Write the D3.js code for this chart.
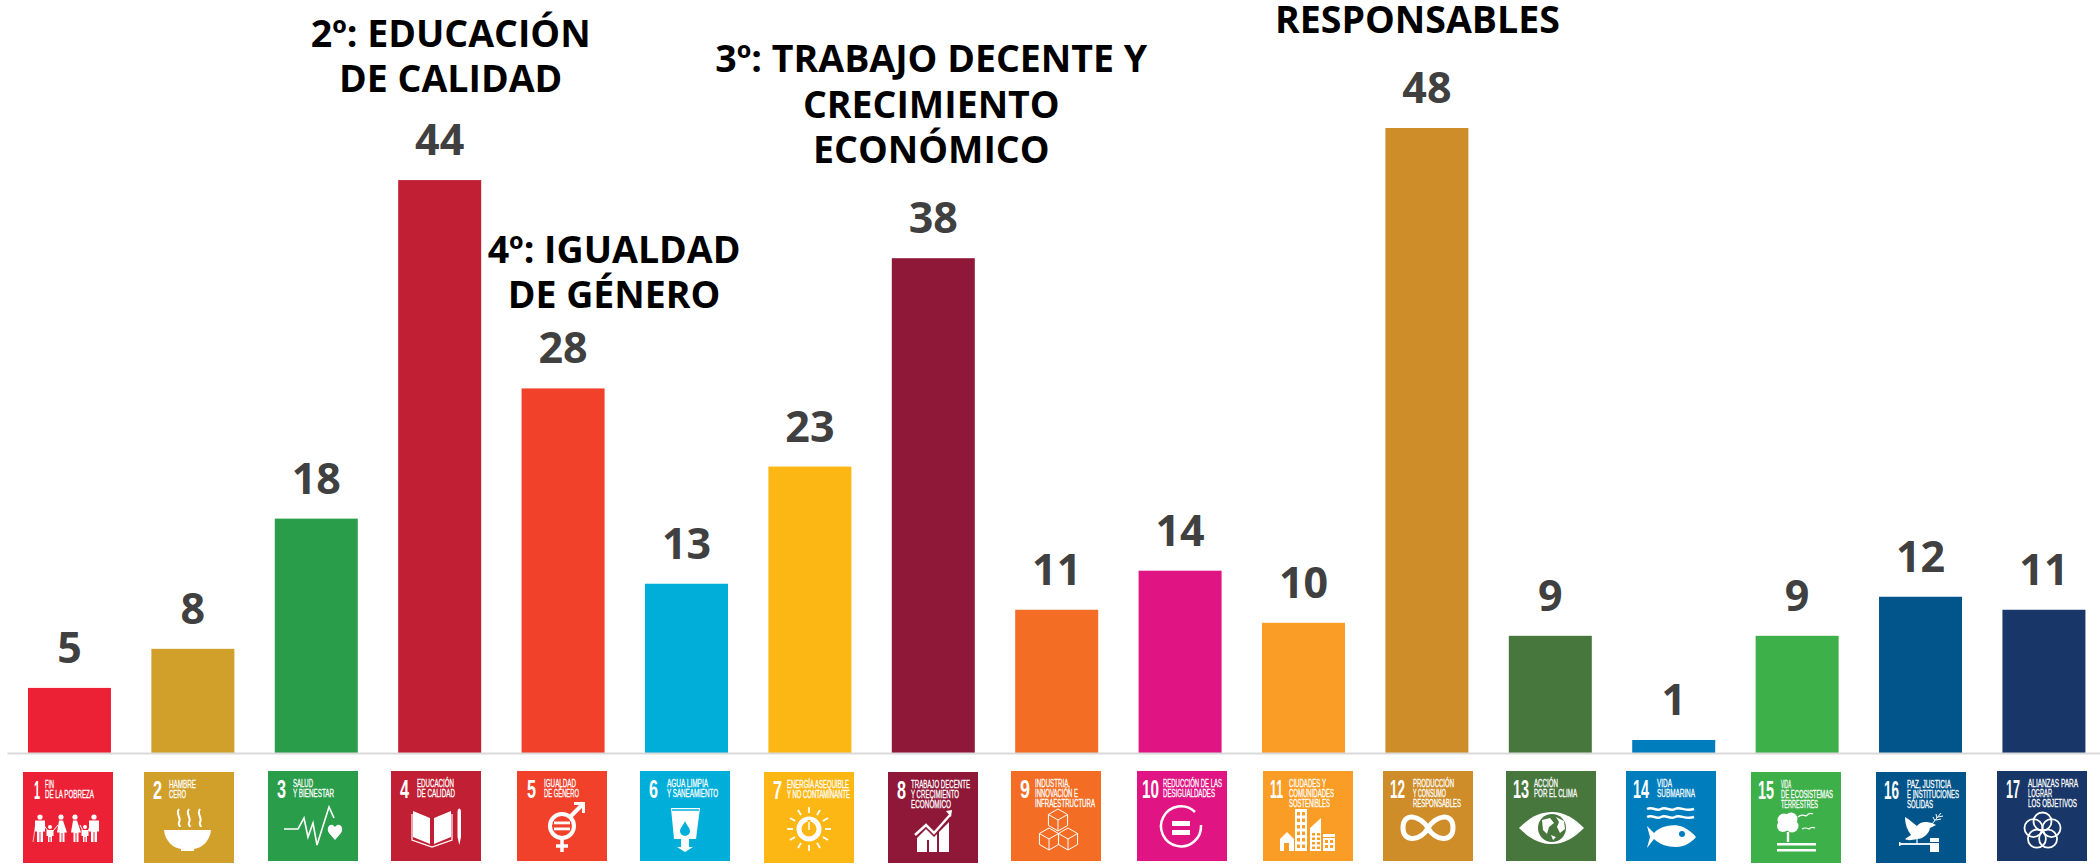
<!DOCTYPE html>
<html><head><meta charset="utf-8">
<script src="https://cdn.jsdelivr.net/npm/d3@7/dist/d3.min.js"></script>
<style>html,body{margin:0;background:#fff}svg{display:block}</style></head>
<body><svg id="c" width="2100" height="865"></svg>
<script>
const goals=["1","2","3","4","5","6","7","8","9","10","11","12","13","14","15","16","17"];
const labels=[5,8,18,44,28,13,23,38,11,14,10,48,9,1,9,12,11];
const barValues=[5,8,18,44,28,13,22,38,11,14,10,48,9,1,9,12,11];
const colors=["#ED2135","#D1A02B","#2A9D4B","#C11F33","#F1412B","#00AEDA","#FDB714","#8F1838","#F36D25","#E11484","#F99D26","#CF8D2A","#48773E","#007DBC","#3EB049","#02558B","#183668"];
const tileText=[["FIN","DE LA POBREZA"],["HAMBRE","CERO"],["SALUD","Y BIENESTAR"],["EDUCACIÓN","DE CALIDAD"],["IGUALDAD","DE GÉNERO"],["AGUA LIMPIA","Y SANEAMIENTO"],["ENERGÍA ASEQUIBLE","Y NO CONTAMINANTE"],["TRABAJO DECENTE","Y CRECIMIENTO","ECONÓMICO"],["INDUSTRIA,","INNOVACIÓN E","INFRAESTRUCTURA"],["REDUCCIÓN DE LAS","DESIGUALDADES"],["CIUDADES Y","COMUNIDADES","SOSTENIBLES"],["PRODUCCIÓN","Y CONSUMO","RESPONSABLES"],["ACCIÓN","POR EL CLIMA"],["VIDA","SUBMARINA"],["VIDA","DE ECOSISTEMAS","TERRESTRES"],["PAZ, JUSTICIA","E INSTITUCIONES","SÓLIDAS"],["ALIANZAS PARA","LOGRAR","LOS OBJETIVOS"]];
const annotations=[{goal:"4",lines:["2º: EDUCACIÓN","DE CALIDAD"]},{goal:"5",lines:["4º: IGUALDAD","DE GÉNERO"]},{goal:"8",lines:["3º: TRABAJO DECENTE Y","CRECIMIENTO","ECONÓMICO"]},{goal:"12",lines:["RESPONSABLES"]}];

// layout only
const tileLeft=[23,144,268,391,517,640,764,888,1011,1137,1263,1383,1506,1626,1751,1876,1997];
const tileTop=[772,772,771,771,771,771,772,772,771,771,771,771,771,771,772,772,771];
const tileH=[91,91,90,90,90,90,91,91,90,90,90,90,90,90,91,91,90];
const numX=[11,9,9,9,10,9,9,9,9,5,7,7,7,7,7,8,9];
const numW=[6,9,9,9,9,9,9,9,10,17,13,15,16,16,16,15,14];
const txtX=[22,25,25,26,27,27,23,23,24,26,26,30,28,31,30,31,31];
const txtW=[[9,49],[27,17],[20,41],[37,38],[32,35],[41,51],[62,63],[59,48,40],[35,43,60],[59,52],[37,45,41],[41,33,48],[24,43],[15,38],[10,52,37],[44,52,26],[50,24,49]];
const annY=[[47,92],[263,308],[72,118,163],[33]];
const annDx=[11,51,-2,-9.5];

const svg=d3.select("#c");
const x=d3.scaleBand().domain(goals).range([7,2100]).paddingInner(40.4/123.4).paddingOuter(.144).align(.59);
const y=d3.scaleLinear().domain([0,48]).range([753,128]);
const rows=goals.map((g,i)=>({g,i,v:barValues[i],l:labels[i],c:colors[i]}));

svg.selectAll("rect.bar").data(rows).join("rect").attr("class","bar")
 .attr("x",d=>x(d.g)).attr("y",d=>y(d.v)).attr("width",x.bandwidth()).attr("height",d=>y(0)-y(d.v)).attr("fill",d=>d.c);

const ax=svg.append("g").attr("transform","translate(0,753)").call(d3.axisBottom(x).tickValues([]).tickSizeOuter(0));
ax.select(".domain").attr("stroke","#d9d9d9").attr("stroke-width",2);

svg.selectAll("text.val").data(rows).join("text").attr("class","val")
 .attr("x",d=>x(d.g)+x.bandwidth()/2).attr("y",d=>y(d.v)-25).attr("text-anchor","middle")
 .attr("font-family","'Open Sans'").attr("font-weight",700).attr("font-size",43).attr("fill","#404040").text(d=>d.l);

annotations.forEach((a,k)=>{
 a.lines.forEach((t,j)=>svg.append("text").attr("x",x(a.goal)+x.bandwidth()/2+annDx[k]).attr("y",annY[k][j])
  .attr("text-anchor","middle").attr("font-family","'Open Sans'").attr("font-weight",700).attr("font-size",37.5).attr("fill","#000").text(t));
});

// --- icon helpers (local 90x90 tile coordinates)
const W="#fff";
const P=(g,d)=>g.append("path").attr("d",d).attr("fill",W);
const S=(g,d,w)=>g.append("path").attr("d",d).attr("fill","none").attr("stroke",W).attr("stroke-width",w);
const C=(g,cx,cy,r)=>g.append("circle").attr("cx",cx).attr("cy",cy).attr("r",r).attr("fill",W);
const R=(g,a,b,w,h,f)=>g.append("rect").attr("x",a).attr("y",b).attr("width",w).attr("height",h).attr("fill",f||W);
const ring=(g,cx,cy,r,w)=>g.append("circle").attr("cx",cx).attr("cy",cy).attr("r",r).attr("fill","none").attr("stroke",W).attr("stroke-width",w);
const icons=[
 g=>{[[17,0],[38,1],[52,1],[71,0]].forEach(([a,f])=>{C(g,a,45,2.6);
     P(g,f?`M${a-2} 48.5h4l4 12h-2.5v9.5h-2v-9h-1v9h-2v-9.5h-2.5z`:`M${a-5} 48.5h10v11h-2v10.5h-2.5v-10h-1v10h-2.5v-10.5h-2z`);});
     [27,62].forEach(a=>{C(g,a,55,2);P(g,`M${a-3.5} 58h7v6h-1.5v6h-1.5v-5h-1v5h-1.5v-6h-1.5z`);});
     S(g,"M13 50L10 70",.7);S(g,"M20 52L25 59M30 59L35 53M57 53L60 59M65 59L68 52",1);},
 g=>{P(g,"M20 58H67C66 69 58 76 50 77V79H37V77C29 76 21 69 20 58Z");
     [35,45,56].forEach(a=>S(g,`M${a} 37C${a-4} 42 ${a+3} 46 ${a} 50C${a-1} 52 ${a+1} 54 ${a+1} 55`,2));},
 g=>{S(g,"M16 58H30L36 47L40 66L45 52L49 74L61 36L66 47",1.6);
     P(g,"M67 69L61 62C58 58 61 53 64.5 54C66 54.5 67 56 67 56C67 56 68 54.5 69.5 54C73 53 76 58 73 62Z");},
 g=>{P(g,"M22 40L39 47V73L22 66ZM43 47L60 40V66L43 73Z");S(g,"M21 43V69L41 76L61 69V43",1.2);
     P(g,"M66.5 41.5C66.5 36 70 36 70 41.5V66L68.25 74L66.5 66Z");},
 g=>{ring(g,45,55,12,4);R(g,37,50.5,16,2.8);R(g,37,56.5,16,2.8);S(g,"M53 46L65 34",4);P(g,"M57 31H68V42L65 42V34H57Z");S(g,"M45 67V81M39 75H51",3.5);},
 g=>{P(g,"M31 37H60L56 68H49V76H53L45 81L37 76H41V68H34Z");
     g.append("path").attr("d","M45 50C43 55 40 57 40 60A5 5 0 0 0 50 60C50 57 47 55 45 50Z").attr("fill",colors[5]);
     g.append("path").attr("d","M32 39H59").attr("stroke",colors[5]).attr("stroke-width",1.5);},
 g=>{ring(g,45,57,10,5);g.append("path").attr("d","M45 48V57").attr("stroke",colors[6]).attr("stroke-width",3);g.append("path").attr("d","M45 50V58").attr("stroke",W).attr("stroke-width",1.5);
     d3.range(12).forEach(k=>{const a=k*Math.PI/6;S(g,`M${45+16*Math.cos(a)} ${57+16*Math.sin(a)}L${45+22*Math.cos(a)} ${57+22*Math.sin(a)}`,1.8);});},
 g=>{P(g,"M29 66L38 57L46 65L49 62V80H29ZM51 60L61 50V80H51Z");R(g,39,68,2,12,colors[7]);R(g,49,62,2,18,colors[7]);
     S(g,"M27 63L38 53L46 61L62 43",2.5);P(g,"M58 39L64 38L63 45Z");},
 g=>{const cube=(cx,cy,r)=>S(g,`M${cx} ${cy-r}L${cx+r*.87} ${cy-r/2}V${cy+r/2}L${cx} ${cy+r}L${cx-r*.87} ${cy+r/2}V${cy-r/2}ZM${cx-r*.87} ${cy-r/2}L${cx} ${cy}L${cx+r*.87} ${cy-r/2}M${cx} ${cy}V${cy+r}`,1);
     cube(47,49,11);cube(38,68,11);cube(57,68,11);},
 g=>{S(g,"M58 41A20 20 0 1 0 64 54",2.5);R(g,35,50,18,5);R(g,35,59,18,5);},
 g=>{const c=colors[10];P(g,"M24 61L31 68H17Z");R(g,17,68,14,12);R(g,21,72,5,8,c);R(g,32,38,12,42);
     d3.range(6).forEach(r=>[34,39].forEach(a=>R(g,a,41+r*6.5,3,3.5,c)));
     P(g,"M47 57L58 47V80H47Z");d3.range(4).forEach(r=>[49,54].forEach(a=>R(g,a,62+r*4.5,3,2.5,c)));
     R(g,60,63,12,17);R(g,60,66,12,1,c);[62,67].forEach(a=>{R(g,a,69,3,3,c);R(g,a,74,3,3,c);});},
 g=>{S(g,"M45 57C38 45 20 40 20 57C20 72 38 70 45 57C52 45 70 40 70 57C70 72 52 70 45 57",5);},
 g=>{P(g,"M13 57C24 46 34 41 46 41C58 41 68 47 78 57C68 67 58 73 46 73C34 73 24 68 13 57Z");
     const c=colors[12];g.append("circle").attr("cx",46).attr("cy",57).attr("r",14).attr("fill",c);
     P(g,"M36 49L44 47L48 52L43 56L41 63L37 59ZM50 46L58 50L59 58L54 62L51 56L53 51ZM45 64L50 66L47 69Z");},
 g=>{["M21 38C27 35 30 41 35 38C40 35 44 41 49 38C54 35 59 41 68 38","M21 46C27 43 30 49 35 46C40 43 44 49 49 46C54 43 59 49 68 46"].forEach(d=>S(g,d,2.5));
     P(g,"M21 55L28 62C34 55 48 52 57 56C63 59 67 62 70 66C65 72 58 76 50 76C41 76 33 73 28 68L21 77L24 66Z");
     g.append("circle").attr("cx",56).attr("cy",63).attr("r",3).attr("fill",colors[13]);},
 g=>{C(g,33,48,6.5);C(g,40,47,6.5);C(g,32,54,6);C(g,41,54,6.5);C(g,37,51,7);R(g,35.8,60,2.4,10);R(g,26,71,39,2.5);R(g,26,77,39,2.5);
     S(g,"M47 45C50 42 53 43 55 44C57 42 60 41 62 42M51 57C54 55 56 56 58 57C60 55 62 55 64 56",1.2);},
 g=>{P(g,"M29 45C33 47 38 52 41 54C44 50 48 50 51 50L56 51L60 53L54 56C53 62 47 67 41 67C36 68 32 69 29 67L35 63C31 58 29 52 29 45Z");
     S(g,"M56 52L65 41M59 49L57 45M61 46L60 42M60 48L65 47M62 45L67 44",1);
     S(g,"M41 67V72",1.2);S(g,"M23 72H54",1.8);R(g,23,70,1.5,4);R(g,54,66,9,14);R(g,54,70,9,1,colors[15]);},
 g=>{[0,1,2,3,4].forEach(k=>{const a=-Math.PI/2+k*2*Math.PI/5;ring(g,45.5+9.5*Math.cos(a),60+9.5*Math.sin(a),9,1.8);});}
];

const tiles=svg.selectAll("g.tile").data(rows).join("g").attr("class","tile").attr("transform",d=>`translate(${tileLeft[d.i]},${tileTop[d.i]})`);
tiles.each(function(d){
 const g=d3.select(this);
 g.append("rect").attr("width",90).attr("height",tileH[d.i]).attr("fill",d.c);
 g.append("text").attr("x",numX[d.i]).attr("y",27).attr("font-family","'Liberation Sans Narrow','Liberation Sans'").attr("font-weight",700).attr("font-size",26.5).attr("fill",W)
  .attr("textLength",numW[d.i]).attr("lengthAdjust","spacingAndGlyphs").text(d.g);
 tileText[d.i].forEach((t,j)=>g.append("text").attr("x",txtX[d.i]).attr("y",16+j*10.1).attr("font-family","'Liberation Sans Narrow','Liberation Sans'").attr("font-weight",400).attr("font-size",11).attr("fill",W)
  .attr("stroke",W).attr("stroke-width",.3).attr("textLength",txtW[d.i][j]).attr("lengthAdjust","spacingAndGlyphs").text(t));
 icons[d.i](g);
});
</script></body></html>
